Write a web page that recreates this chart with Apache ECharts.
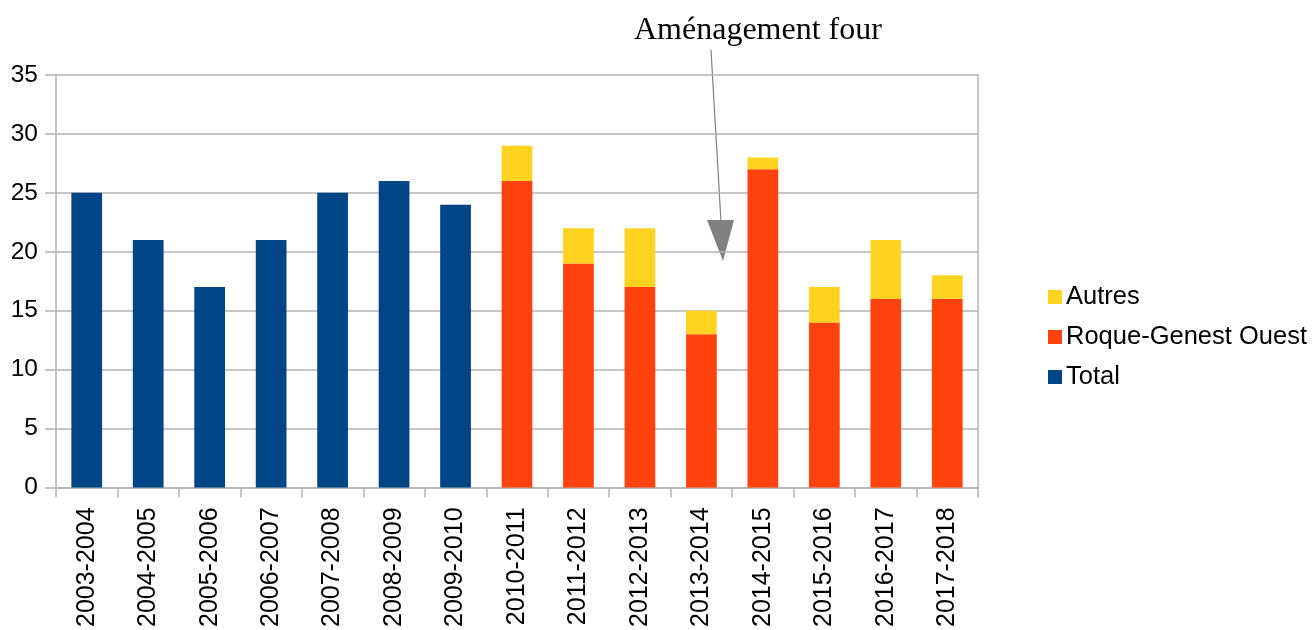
<!DOCTYPE html>
<html>
<head>
<meta charset="utf-8">
<script src="https://cdn.jsdelivr.net/npm/echarts@6/dist/echarts.min.js"></script>
<style>html,body{margin:0;padding:0;background:#fff;}#c{width:1313px;height:630px;}</style>
</head>
<body>
<div id="c"></div>
<script>
const categories = ['2003-2004','2004-2005','2005-2006','2006-2007','2007-2008','2008-2009','2009-2010','2010-2011','2011-2012','2012-2013','2013-2014','2014-2015','2015-2016','2016-2017','2017-2018'];
const totalValues = [25,21,17,21,25,26,24,null,null,null,null,null,null,null,null];
const roqueValues = [null,null,null,null,null,null,null,26,19,17,13,27,14,16,16];
const autresValues = [null,null,null,null,null,null,null,3,3,5,2,1,3,5,2];
const yTicks = [0,5,10,15,20,25,30,35];

const chart = echarts.init(document.getElementById('c'));
const axisColor = '#b3b3b3';
const font = 'Liberation Sans, Arial, sans-serif';
chart.setOption({
  animation: false,
  grid: {left: 56, top: 75, right: 335, bottom: 140, containLabel: false},
  legend: {
    orient: 'vertical', left: 1043, top: 279,
    data: ['Autres','Roque-Genest Ouest','Total'],
    icon: 'rect', itemWidth: 14, itemHeight: 14, itemGap: 14,
    textStyle: {fontFamily: font, fontSize: 25.5, color: '#000', padding: [0,0,0,-1]}
  },
  xAxis: {
    type: 'category', data: categories,
    axisLine: {lineStyle: {color: axisColor, width: 1.5}},
    axisTick: {show: true, length: 10, lineStyle: {color: axisColor, width: 1.5}},
    axisLabel: {rotate: 90, margin: 20, fontFamily: font, fontSize: 25, color: '#000', interval: 0}
  },
  yAxis: [{
    type: 'value', min: yTicks[0], max: yTicks[yTicks.length-1], interval: 5,
    axisLine: {show: true, lineStyle: {color: axisColor, width: 1.5}},
    axisTick: {show: true, length: 11, lineStyle: {color: axisColor, width: 1.5}},
    splitLine: {lineStyle: {color: axisColor, width: 1.5}},
    axisLabel: {margin: 18, fontFamily: font, fontSize: 24.5, color: '#000'}
  },{
    type: 'value', position: 'right', min: 0, max: 35, interval: 5,
    axisLine: {show: true, lineStyle: {color: axisColor, width: 1.5}},
    axisTick: {show: false}, axisLabel: {show: false}, splitLine: {show: false}
  }],
  series: [
    {name: 'Total', type: 'bar', stack: 'a', data: totalValues, barWidth: '50%', itemStyle: {color: '#004586'}},
    {name: 'Roque-Genest Ouest', type: 'bar', stack: 'a', data: roqueValues, barWidth: '50%', itemStyle: {color: '#ff420e'}},
    {name: 'Autres', type: 'bar', stack: 'a', data: autresValues, barWidth: '50%', itemStyle: {color: '#ffd320'}}
  ],
  graphic: [
    {type: 'text', left: 634, top: 15, style: {text: 'Aménagement four', font: '32px "Liberation Serif", "Times New Roman", serif', fill: '#000'}},
    {type: 'line', shape: {x1: 711, y1: 50, x2: 721, y2: 222}, style: {stroke: '#808080', lineWidth: 1.2}},
    {type: 'polygon', shape: {points: [[707,220],[734,220],[723,261]]}, style: {fill: '#808080'}}
  ]
});
</script>
</body>
</html>
